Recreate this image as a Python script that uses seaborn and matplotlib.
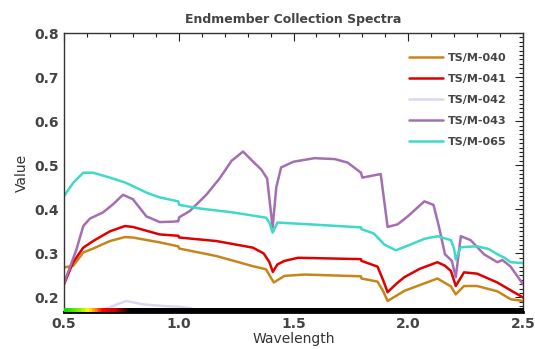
import numpy as np
import pandas as pd
import matplotlib
matplotlib.use("Agg")
import matplotlib.pyplot as plt
from matplotlib.colors import LinearSegmentedColormap
from matplotlib.ticker import MultipleLocator, FormatStrFormatter
import seaborn as sns

# ---- data ----
series_names = ["TS/M-040", "TS/M-041", "TS/M-042", "TS/M-043", "TS/M-065"]
colors = ["#c8861a", "#e00000", "#dcd6f2", "#a46fb2", "#3fd9c9"]

wl_040 = [0.5, 0.54, 0.584, 0.627, 0.70, 0.765, 0.80, 0.917, 0.998, 1.002, 1.164, 1.323, 1.38, 1.414, 1.461,
          1.548, 1.794, 1.796, 1.866, 1.89, 1.91, 1.983, 2.05, 2.127, 2.186, 2.207, 2.243, 2.30, 2.388, 2.446, 2.5]
val_040 = [0.268, 0.272, 0.302, 0.311, 0.328, 0.337, 0.336, 0.325, 0.316, 0.311, 0.294, 0.271, 0.264, 0.234,
           0.249, 0.252, 0.248, 0.243, 0.236, 0.215, 0.192, 0.215, 0.228, 0.243, 0.225, 0.207, 0.226, 0.226,
           0.214, 0.196, 0.192]

wl_041 = [0.5, 0.54, 0.584, 0.627, 0.70, 0.765, 0.80, 0.917, 0.998, 1.002, 1.164, 1.323, 1.37, 1.395, 1.41,
          1.43, 1.461, 1.52, 1.794, 1.796, 1.866, 1.89, 1.91, 1.95, 1.983, 2.05, 2.127, 2.16, 2.186, 2.207,
          2.243, 2.30, 2.388, 2.45, 2.5]
val_041 = [0.230, 0.28, 0.313, 0.328, 0.350, 0.362, 0.360, 0.343, 0.340, 0.336, 0.328, 0.313, 0.30, 0.28,
           0.258, 0.275, 0.283, 0.29, 0.287, 0.283, 0.27, 0.24, 0.212, 0.232, 0.246, 0.265, 0.280, 0.272, 0.26,
           0.226, 0.257, 0.254, 0.234, 0.215, 0.20]

wl_042 = [0.5, 0.6, 0.657, 0.7, 0.77, 0.85, 0.95, 1.0, 1.05, 1.1, 1.3, 2.5]
val_042 = [0.14, 0.155, 0.169, 0.178, 0.192, 0.184, 0.18, 0.179, 0.176, 0.165, 0.14, 0.10]

wl_043 = [0.5, 0.555, 0.584, 0.613, 0.67, 0.715, 0.757, 0.80, 0.859, 0.917, 0.975, 0.998, 1.002, 1.048, 1.12,
          1.178, 1.23, 1.28, 1.33, 1.36, 1.385, 1.409, 1.425, 1.446, 1.5, 1.591, 1.68, 1.736, 1.794, 1.80,
          1.84, 1.88, 1.895, 1.91, 1.954, 2.0, 2.07, 2.11, 2.134, 2.16, 2.19, 2.207, 2.229, 2.272, 2.33,
          2.388, 2.41, 2.446, 2.5]
val_043 = [0.232, 0.31, 0.362, 0.379, 0.393, 0.412, 0.433, 0.423, 0.384, 0.371, 0.372, 0.373, 0.382, 0.396,
           0.433, 0.47, 0.51, 0.531, 0.505, 0.49, 0.47, 0.359, 0.45, 0.495, 0.508, 0.516, 0.514, 0.506, 0.483,
           0.472, 0.476, 0.48, 0.42, 0.36, 0.366, 0.385, 0.418, 0.41, 0.36, 0.298, 0.283, 0.246, 0.339, 0.33,
           0.298, 0.28, 0.285, 0.27, 0.23]

wl_065 = [0.5, 0.54, 0.584, 0.627, 0.70, 0.77, 0.859, 0.917, 0.998, 1.002, 1.09, 1.235, 1.38, 1.395, 1.409,
          1.43, 1.6, 1.794, 1.796, 1.85, 1.896, 1.946, 2.0, 2.07, 2.127, 2.186, 2.2, 2.207, 2.229, 2.3, 2.35,
          2.388, 2.42, 2.446, 2.5]
val_065 = [0.430, 0.46, 0.483, 0.483, 0.472, 0.46, 0.438, 0.427, 0.418, 0.41, 0.402, 0.393, 0.381, 0.37,
           0.347, 0.37, 0.365, 0.359, 0.355, 0.345, 0.320, 0.307, 0.318, 0.333, 0.339, 0.330, 0.31, 0.286,
           0.314, 0.316, 0.31, 0.298, 0.29, 0.28, 0.278]

wls = [wl_040, wl_041, wl_042, wl_043, wl_065]
vals = [val_040, val_041, val_042, val_043, val_065]

frames = []
for name, w, v in zip(series_names, wls, vals):
    frames.append(pd.DataFrame({"Wavelength": w, "Value": v, "Spectrum": name}))
df = pd.concat(frames, ignore_index=True)

# ---- plot ----
sns.set_style("white")
plt.rcParams["font.family"] = ["DejaVu Sans"]

fig = plt.figure(figsize=(5.35, 3.49), dpi=100)
ax = fig.add_axes([0.1196, 0.106, 0.858, 0.7994])

sns.lineplot(data=df, x="Wavelength", y="Value", hue="Spectrum", palette=dict(zip(series_names, colors)),
             hue_order=series_names, sort=False, estimator=None, units="Spectrum", linewidth=1.8, ax=ax)

ax.set_xlim(0.5, 2.5)
ax.set_ylim(0.167, 0.8)
ax.xaxis.set_major_locator(MultipleLocator(0.5))
ax.xaxis.set_minor_locator(MultipleLocator(0.1))
ax.yaxis.set_major_locator(MultipleLocator(0.1))
ax.yaxis.set_minor_locator(MultipleLocator(0.01))
ax.xaxis.set_major_formatter(FormatStrFormatter("%.1f"))
ax.yaxis.set_major_formatter(FormatStrFormatter("%.1f"))
ax.tick_params(which="both", direction="in", top=True, right=True, color="#222222", width=0.8,
               labelsize=10, labelcolor="#444444")
ax.tick_params(which="major", length=6)
ax.tick_params(which="minor", length=3)
for lab in ax.get_xticklabels() + ax.get_yticklabels():
    lab.set_fontweight("bold")
for s in ax.spines.values():
    s.set_color("#333333")
    s.set_linewidth(1.0)
ax.spines["bottom"].set_linewidth(2.0)
ax.spines["bottom"].set_color("black")

ax.set_title("Endmember Collection Spectra", fontsize=9, fontweight="bold", color="#444444", pad=7)
ax.set_xlabel("Wavelength", fontsize=10, color="#333333", labelpad=1)
ax.set_ylabel("Value", fontsize=10, color="#333333", labelpad=4)

leg = ax.legend(loc="upper left", bbox_to_anchor=(0.752, 0.928), frameon=False, fontsize=8,
                handlelength=3.0, labelspacing=0.98, handletextpad=0.45, borderaxespad=0.0, borderpad=0.0)
for t in leg.get_texts():
    t.set_fontweight("bold")
    t.set_color("#444444")
for h in leg.get_lines():
    h.set_linewidth(1.8)

# visible-spectrum strip along the bottom
strip = ax.inset_axes([0, 0, 1, 0.013])
spec_cmap = LinearSegmentedColormap.from_list(
    "vis", [(0.0, "#00e000"), (0.03, "#80f000"), (0.05, "#ffff00"), (0.065, "#ff9000"),
            (0.08, "#ff0000"), (0.11, "#c00000"), (0.135, "#200000"), (0.14, "#000000"), (1.0, "#000000")])
strip.imshow(np.linspace(0, 1, 400)[None, :], aspect="auto", cmap=spec_cmap, extent=[0, 1, 0, 1])
strip.set_axis_off()

fig.savefig("out.png", dpi=100)
